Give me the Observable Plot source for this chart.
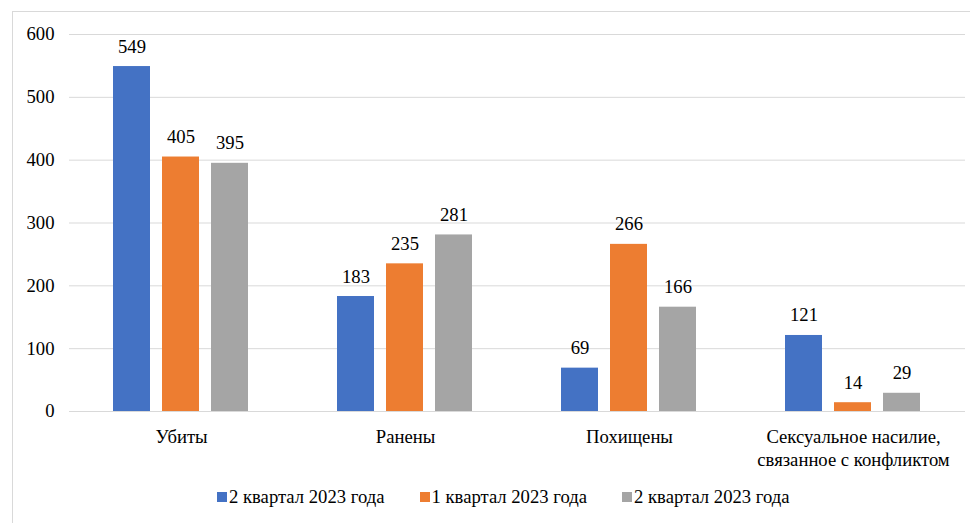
<!DOCTYPE html>
<html>
<head>
<meta charset="utf-8">
<script src="https://cdn.jsdelivr.net/npm/d3@7"></script>
<script src="https://cdn.jsdelivr.net/npm/@observablehq/plot@0.6"></script>
<style>
  html, body { margin: 0; padding: 0; background: #fff; overflow: hidden; }
  body { width: 970px; height: 523px; position: relative; font-family: 'Liberation Serif', 'Times New Roman', serif; }
  #frame { position: absolute; left: 12px; top: 11px; width: 2000px; height: 2000px; border: 1px solid #d9d9d9; box-sizing: border-box; }
  #chart { position: absolute; left: 0; top: 0; }
  #chart svg, #chart svg text { font-family: 'Liberation Serif', 'Times New Roman', serif !important; }
  #legend { position: absolute; left: 217px; top: 486px; display: flex; gap: 35px; font-size: 18.67px; color: #000; white-space: nowrap; }
  .item { display: flex; align-items: center; }
  .sw { width: 10px; height: 10px; margin-right: 2px; }
</style>
</head>
<body>
<div id="frame"></div>
<div id="chart"></div>
<div id="legend"></div>
<script>
const categories = ["Убиты", "Ранены", "Похищены", "Сексуальное насилие,\nсвязанное с конфликтом"];
const seriesKeys = ["s1", "s2", "s3"];
const seriesLabels = ["2 квартал 2023 года", "1 квартал 2023 года", "2 квартал 2023 года"];
const seriesColors = ["#4472C4", "#ED7D31", "#A5A5A5"];
const valuesS1 = [549, 183, 69, 121];
const valuesS2 = [405, 235, 266, 14];
const valuesS3 = [395, 281, 166, 29];
const yTicks = [0, 100, 200, 300, 400, 500, 600];

const serif = "Liberation Serif";
const seriesValues = [valuesS1, valuesS2, valuesS3];
const data = [];
categories.forEach((c, i) => {
  seriesKeys.forEach((k, j) => {
    data.push({cat: c, key: k, value: seriesValues[j][i]});
  });
});

const chart = Plot.plot({
  width: 970,
  height: 480,
  marginLeft: 68,
  marginRight: 5,
  marginTop: 34,
  marginBottom: 69,
  style: "font-family: 'Liberation Serif', 'Times New Roman', serif; font-size: 18.67px; color: #000; background: transparent;",
  fx: {domain: categories, padding: 0, axis: null},
  x: {domain: seriesKeys, paddingInner: 0.24, paddingOuter: 0.8625, axis: null},
  y: {domain: [0, 600], axis: null},
  color: {domain: seriesKeys, range: seriesColors},
  marks: [
    Plot.ruleY(yTicks, {stroke: "#d9d9d9", strokeWidth: 1}),
    Plot.axisY(yTicks, {tickSize: 0, tickPadding: 15, label: null, fontSize: 18.67, fontFamily: serif}),
    Plot.barY(data, {fx: "cat", x: "key", y: "value", fill: "key"}),
    Plot.text(data, {fx: "cat", x: "key", y: "value", text: d => String(d.value), dy: -14, lineAnchor: "bottom", fontSize: 18.67, fontFamily: serif, fill: "#000"}),
    Plot.text(categories, {fx: d => d, text: d => d, frameAnchor: "bottom", dy: 15, lineAnchor: "top", lineHeight: 1.23, fontSize: 18.67, fontFamily: serif, fill: "#000"})
  ]
});
document.getElementById("chart").appendChild(chart);

const legend = document.getElementById("legend");
seriesLabels.forEach((lab, i) => {
  const it = document.createElement("div");
  it.className = "item";
  const sw = document.createElement("span");
  sw.className = "sw";
  sw.style.background = seriesColors[i];
  const tx = document.createElement("span");
  tx.textContent = lab;
  it.appendChild(sw);
  it.appendChild(tx);
  legend.appendChild(it);
});
</script>
</body>
</html>
